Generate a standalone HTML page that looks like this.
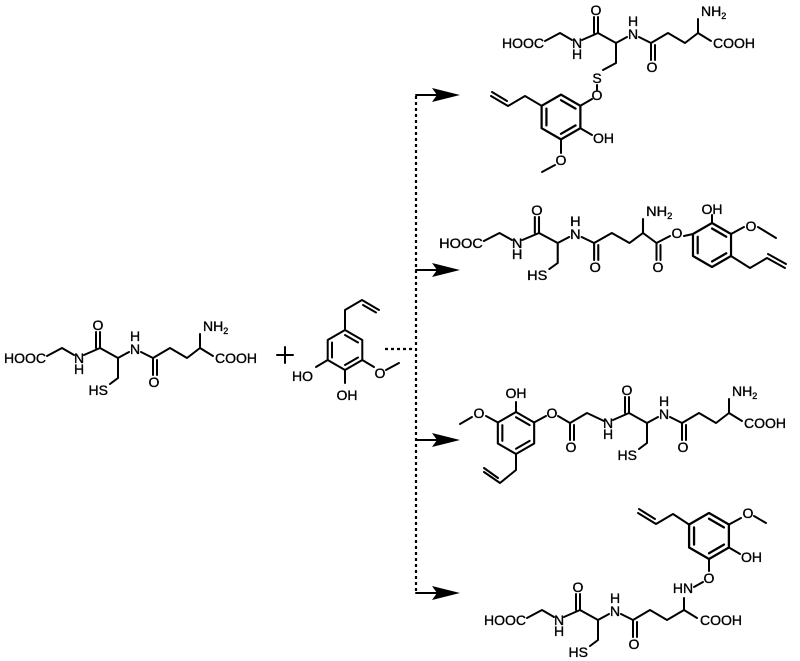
<!DOCTYPE html>
<html><head><meta charset="utf-8"><style>
html,body{margin:0;padding:0;background:#fff}
svg{display:block}
text{font-family:"Liberation Sans",Arial,sans-serif;font-size:14px;fill:#000;stroke:#000;stroke-width:0.35}
.b{fill:none;stroke:#000;stroke-width:2;stroke-linejoin:round;stroke-linecap:round}
.d{fill:none;stroke:#000;stroke-width:2.2;stroke-dasharray:3,3}
</style></head><body>
<svg width="800" height="661" viewBox="0 0 800 661" xmlns="http://www.w3.org/2000/svg">
<defs>
<g id="ring20">
<polygon class="b" points="0,-20 17.3,-10 17.3,10 0,20 -17.3,10 -17.3,-10"/>
<line class="b" x1="0" y1="-15" x2="13" y2="-7.5"/><line class="b" x1="13" y1="7.5" x2="0" y2="15"/><line class="b" x1="-13" y1="7.5" x2="-13" y2="-7.5"/>
</g>
</defs>

<!-- LEFT glutathione -->
<g transform="translate(0,358)">
<polyline class="b" points="47,-2 62,-10 74,-3"/>
<polyline class="b" points="84,-3 100,-10 118,0 129,-6"/>
<line class="b" x1="100" y1="-10" x2="100" y2="-26"/><line class="b" x1="96" y1="-10" x2="96" y2="-26"/>
<polyline class="b" points="118,0 118,20 110,26"/>
<polyline class="b" points="141,-6 153,0 170,-10 187,0 200,-10 213,-2"/>
<line class="b" x1="153" y1="0" x2="153" y2="17"/><line class="b" x1="157" y1="2" x2="157" y2="17"/>
<line class="b" x1="200" y1="-10" x2="200" y2="-24"/>
<text x="4" y="5">HOOC</text>
<text x="79" y="5" text-anchor="middle">N</text><text x="79" y="16" text-anchor="middle">H</text>
<text x="98" y="-28" text-anchor="middle">O</text>
<text x="135" y="-4" text-anchor="middle">N</text><text x="135" y="-17" text-anchor="middle">H</text>
<text x="108" y="37" text-anchor="end">HS</text>
<text x="154" y="29" text-anchor="middle">O</text>
<text x="203" y="-27">NH<tspan font-size="9" dy="3">2</tspan></text>
<text x="215" y="5">COOH</text>
</g>
<!-- plus -->
<line class="b" x1="277" y1="355" x2="293" y2="355"/><line class="b" x1="285" y1="347" x2="285" y2="363"/>
<!-- reactant phenol -->
<use href="#ring20" transform="translate(345,350)"/>
<polyline class="b" points="345,330 345,310 362,300 379,310"/><line class="b" x1="363" y1="305" x2="376" y2="312.5"/>
<line class="b" x1="327.7" y1="360" x2="316" y2="367"/>
<text x="313" y="381" text-anchor="end">HO</text>
<line class="b" x1="345" y1="370" x2="345" y2="383"/>
<text x="347" y="400" text-anchor="middle">OH</text>
<line class="b" x1="362.3" y1="360" x2="374" y2="367"/>
<text x="380" y="378" text-anchor="middle">O</text>
<line class="b" x1="386" y1="370" x2="399" y2="363"/>

<!-- dotted connectors -->
<line class="d" x1="385" y1="349" x2="414" y2="349"/>
<line class="d" x1="416" y1="96" x2="416" y2="594"/>
<g>
<line class="b" x1="416" y1="95" x2="440" y2="95"/><polygon points="432,88 460,95 432,102 437,95"/>
<line class="b" x1="416" y1="270" x2="440" y2="270"/><polygon points="432,263 460,270 432,277 437,270"/>
<line class="b" x1="416" y1="440" x2="440" y2="440"/><polygon points="432,433 460,440 432,447 437,440"/>
<line class="b" x1="416" y1="593" x2="440" y2="593"/><polygon points="432,586 460,593 432,600 437,593"/>
</g>

<!-- PRODUCT 1 -->
<g transform="translate(498,43)">
<polyline class="b" points="47,-2 62,-10 74,-3"/>
<polyline class="b" points="84,-3 100,-10 118,0 129,-6"/>
<line class="b" x1="100" y1="-10" x2="100" y2="-26"/><line class="b" x1="96" y1="-10" x2="96" y2="-26"/>
<polyline class="b" points="118,0 118,20 105,27"/>
<polyline class="b" points="141,-6 153,0 170,-10 187,0 200,-10 213,-2"/>
<line class="b" x1="153" y1="0" x2="153" y2="17"/><line class="b" x1="157" y1="2" x2="157" y2="17"/>
<line class="b" x1="200" y1="-10" x2="200" y2="-24"/>
<text x="4" y="5">HOOC</text>
<text x="79" y="5" text-anchor="middle">N</text><text x="79" y="16" text-anchor="middle">H</text>
<text x="98" y="-28" text-anchor="middle">O</text>
<text x="135" y="-4" text-anchor="middle">N</text><text x="135" y="-17" text-anchor="middle">H</text>
<text x="99" y="40" text-anchor="middle">S</text>
<line class="b" x1="99" y1="42" x2="99" y2="47"/>
<text x="99" y="57" text-anchor="middle">O</text>
<text x="154" y="29" text-anchor="middle">O</text>
<text x="203" y="-27">NH<tspan font-size="9" dy="3">2</tspan></text>
<text x="215" y="5">COOH</text>
</g>
<use href="#ring20" transform="translate(561,117) scale(1.12)"/>
<line class="b" x1="592" y1="99" x2="580.4" y2="105.8"/>
<polyline class="b" points="541.6,105.8 525,96 508,106 491,96"/><line class="b" x1="507" y1="101" x2="492" y2="92"/>
<line class="b" x1="580.4" y1="128.2" x2="592" y2="135"/>
<text x="593" y="143">OH</text>
<line class="b" x1="561" y1="139.4" x2="561" y2="153"/>
<text x="561" y="165" text-anchor="middle">O</text>
<line class="b" x1="555" y1="165" x2="542" y2="172"/>

<!-- PRODUCT 2 -->
<g transform="translate(435,243) scale(1.04,1)">
<polyline class="b" points="47,-2 62,-10 74,-3"/>
<polyline class="b" points="84,-3 100,-10 118,0 129,-6"/>
<line class="b" x1="100" y1="-10" x2="100" y2="-26"/><line class="b" x1="96" y1="-10" x2="96" y2="-26"/>
<polyline class="b" points="118,0 118,20 110,26"/>
<polyline class="b" points="141,-6 153,0 170,-10 187,0 200,-10 213,0"/>
<line class="b" x1="153" y1="0" x2="153" y2="17"/><line class="b" x1="157" y1="2" x2="157" y2="17"/>
<line class="b" x1="200" y1="-10" x2="200" y2="-24"/>
<text x="4" y="5">HOOC</text>
<text x="79" y="5" text-anchor="middle">N</text><text x="79" y="16" text-anchor="middle">H</text>
<text x="98" y="-28" text-anchor="middle">O</text>
<text x="135" y="-4" text-anchor="middle">N</text><text x="135" y="-17" text-anchor="middle">H</text>
<text x="108" y="37" text-anchor="end">HS</text>
<text x="154" y="29" text-anchor="middle">O</text>
<text x="203" y="-27">NH<tspan font-size="9" dy="3">2</tspan></text>
</g>
<line class="b" x1="656.5" y1="243" x2="656.5" y2="260"/><line class="b" x1="660.5" y1="245" x2="660.5" y2="260"/>
<text x="658" y="272" text-anchor="middle">O</text>
<line class="b" x1="656.5" y1="243" x2="670" y2="236"/>
<text x="677" y="238" text-anchor="middle">O</text>
<line class="b" x1="684" y1="236" x2="693" y2="234"/>
<use href="#ring20" transform="translate(712,245) scale(1.1)"/>
<line class="b" x1="712" y1="223" x2="712" y2="215"/>
<text x="712" y="214" text-anchor="middle">OH</text>
<line class="b" x1="731" y1="234" x2="744" y2="227"/>
<text x="751" y="231" text-anchor="middle">O</text>
<line class="b" x1="758" y1="227" x2="776" y2="238"/>
<polyline class="b" points="731,256 750,268 767,258 785,268"/><line class="b" x1="768" y1="254" x2="786" y2="264"/>

<!-- PRODUCT 3 -->
<g transform="translate(529,423)">
<polyline class="b" points="84,-3 100,-10 118,0 129,-6"/>
<line class="b" x1="100" y1="-10" x2="100" y2="-26"/><line class="b" x1="96" y1="-10" x2="96" y2="-26"/>
<polyline class="b" points="118,0 118,20 110,26"/>
<polyline class="b" points="141,-6 153,0 170,-10 187,0 200,-10 213,-2"/>
<line class="b" x1="153" y1="0" x2="153" y2="17"/><line class="b" x1="157" y1="2" x2="157" y2="17"/>
<line class="b" x1="200" y1="-10" x2="200" y2="-24"/>
<text x="79" y="5" text-anchor="middle">N</text><text x="79" y="16" text-anchor="middle">H</text>
<text x="98" y="-28" text-anchor="middle">O</text>
<text x="135" y="-4" text-anchor="middle">N</text><text x="135" y="-17" text-anchor="middle">H</text>
<text x="108" y="37" text-anchor="end">HS</text>
<text x="154" y="29" text-anchor="middle">O</text>
<text x="203" y="-27">NH<tspan font-size="9" dy="3">2</tspan></text>
<text x="215" y="5">COOH</text>
</g>
<use href="#ring20" transform="translate(516,433) scale(1.05)"/>
<line class="b" x1="516" y1="412" x2="516" y2="402"/>
<text x="516" y="398" text-anchor="middle">OH</text>
<line class="b" x1="498" y1="422.5" x2="486" y2="416"/>
<text x="479" y="418" text-anchor="middle">O</text>
<line class="b" x1="472" y1="417" x2="460" y2="424"/>
<line class="b" x1="534" y1="422.5" x2="546" y2="416"/>
<text x="552" y="418" text-anchor="middle">O</text>
<polyline class="b" points="558,416 570,423 587,413 604,421"/>
<line class="b" x1="570" y1="423" x2="570" y2="440"/><line class="b" x1="574" y1="425" x2="574" y2="440"/>
<text x="571" y="452" text-anchor="middle">O</text>
<polyline class="b" points="516,454 516,470 500,483 484,472"/><line class="b" x1="498" y1="478" x2="484" y2="468"/>

<!-- PRODUCT 4 -->
<g transform="translate(480,620)">
<polyline class="b" points="47,-2 62,-10 74,-3"/>
<polyline class="b" points="84,-3 100,-10 118,0 129,-6"/>
<line class="b" x1="100" y1="-10" x2="100" y2="-26"/><line class="b" x1="96" y1="-10" x2="96" y2="-26"/>
<polyline class="b" points="118,0 118,20 110,26"/>
<polyline class="b" points="141,-6 153,0 170,-10 187,0 204,-10 217,-2"/>
<line class="b" x1="153" y1="0" x2="153" y2="17"/><line class="b" x1="157" y1="2" x2="157" y2="17"/>
<line class="b" x1="204" y1="-10" x2="204" y2="-22"/>
<text x="4" y="5">HOOC</text>
<text x="79" y="5" text-anchor="middle">N</text><text x="79" y="16" text-anchor="middle">H</text>
<text x="98" y="-28" text-anchor="middle">O</text>
<text x="135" y="-4" text-anchor="middle">N</text><text x="135" y="-17" text-anchor="middle">H</text>
<text x="108" y="37" text-anchor="end">HS</text>
<text x="154" y="29" text-anchor="middle">O</text>
<text x="203" y="-27" text-anchor="middle">HN</text>
<text x="220" y="5">COOH</text>
</g>
<line class="b" x1="694" y1="587" x2="703" y2="582"/>
<text x="709" y="583" text-anchor="middle">O</text>
<line class="b" x1="709" y1="571" x2="709" y2="560"/>
<use href="#ring20" transform="translate(709,536) scale(1.15)"/>
<line class="b" x1="729" y1="547.5" x2="740" y2="554"/>
<text x="741" y="562">OH</text>
<line class="b" x1="729" y1="524.5" x2="741" y2="518"/>
<text x="748" y="518" text-anchor="middle">O</text>
<line class="b" x1="754" y1="516" x2="766" y2="523"/>
<polyline class="b" points="689,524.5 673,514 656,524 638,513"/><line class="b" x1="655" y1="519" x2="639" y2="509"/>
</svg>
</body></html>
